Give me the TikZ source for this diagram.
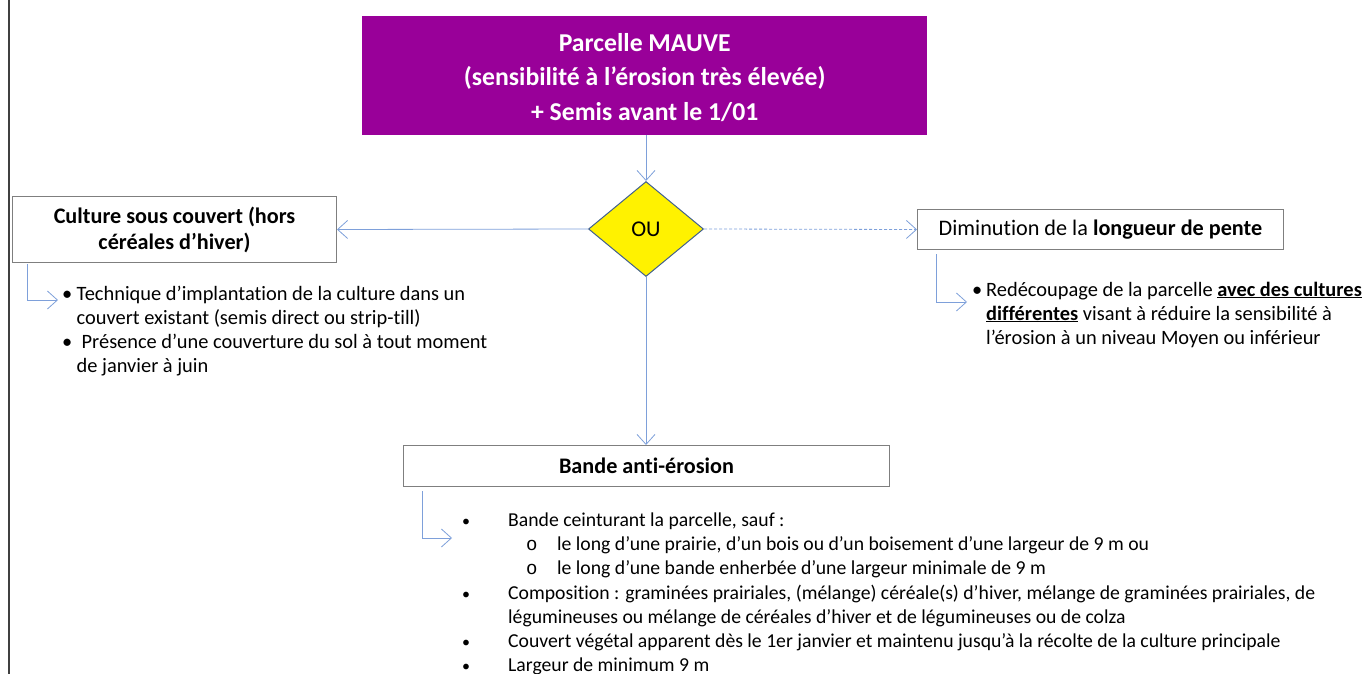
\documentclass[tikz,border=0pt]{standalone}
\usepackage{fontspec}
\setmainfont{Carlito}[Ligatures=CommonOff]
\newfontfamily\monof{Liberation Mono}
\usetikzlibrary{arrows.meta,shapes.geometric}
\definecolor{mauve}{HTML}{990099}
\definecolor{connc}{HTML}{7EA0DA}
\definecolor{boxline}{HTML}{7F7F7F}
\definecolor{dborder}{HTML}{41608F}
\definecolor{frame}{HTML}{404040}
\newcommand\bodyf{\fontsize{20.4}{24}\selectfont}
\newcommand\botf{\fontsize{19.7}{24}\selectfont}
\begin{document}
\begin{tikzpicture}[x=1pt,y=-1pt,
  conn/.style={draw=connc, line width=0.8pt, -{Straight Barb[length=10pt,width=18pt,line width=0.8pt]}},
  boxnode/.style={draw=boxline, line width=1pt, fill=white, inner sep=0pt, anchor=north west},
  txt/.style={inner sep=0pt, anchor=base west, font=\bodyf},
  btxt/.style={inner sep=0pt, anchor=base west, font=\botf}]
\useasboundingbox (0,0) rectangle (1365,674);
\draw[frame, line width=1.3pt] (9,0) coordinate (f1) -- (9,674) coordinate (f2);
% top box
\node[fill=mauve, inner sep=0pt, anchor=north west, minimum width=565pt, minimum height=119pt] (top) at (362,16) {};
\node[text=white, align=center, font=\fontsize{25.7}{34.5}\selectfont\bfseries] (toptxt) at ([yshift=-1.5pt]top.center) {Parcelle MAUVE\\(sensibilité à l’érosion très élevée)\\+ Semis avant le 1/01};
% diamond
\node[diamond, fill=yellow, draw=dborder, line width=1pt, minimum width=115pt, minimum height=95pt, inner sep=0pt, font=\fontsize{22.5}{24}\selectfont] (dia) at (646,229) {OU};
% boxes
\node[boxnode, minimum width=324pt, minimum height=66pt] (left) at (12,196) {};
\node[align=center, font=\fontsize{22.2}{26}\selectfont\bfseries] (lefttxt) at (left.center) {Culture sous couvert (hors\\céréales d’hiver)};
\node[boxnode, minimum width=366pt, minimum height=40pt] (right) at (917,209) {};
\node[font=\fontsize{22.2}{24}\selectfont] (righttxt) at (right.center) {Diminution de la \textbf{longueur de pente}};
\node[boxnode, minimum width=486pt, minimum height=41pt] (bot) at (403,445) {};
\node[font=\fontsize{22.2}{24}\selectfont\bfseries] (bottxt) at (bot.center) {Bande anti-érosion};
% connectors
\draw[conn] (dia.north |- top.south) -- (dia.north);
\draw[conn] (dia.west) -- (left.east);
\draw[conn, dash pattern=on 3pt off 2pt] (dia.east) -- (right.west);
\draw[conn] (dia.south) -- (dia.south |- bot.north);
\coordinate (le) at (58,300);
\coordinate (re) at (967,302);
\coordinate (be) at (452,538);
\draw[conn] ([xshift=15pt,yshift=-1pt]left.south west) |- (le);
\draw[conn] ([xshift=19pt,yshift=-4pt]right.south west) |- (re);
\draw[conn] ([xshift=19pt,yshift=-4pt]bot.south west) |- (be);
% left bullets
\node[txt] (lb1) at (62,300) {•};
\node[txt] (l1) at (76.5,300) {Technique d’implantation de la culture dans un};
\node[txt] (l2) at (76.5,324) {couvert existant (semis direct ou strip-till)};
\node[txt] (lb2) at (62,348) {•};
\node[txt] (l3) at (81.5,348) {Présence d’une couverture du sol à tout moment};
\node[txt] (l4) at (76.5,372) {de janvier à juin};
% right bullets
\node[txt] (rb1) at (972,296) {•};
\node[txt] (r1) at (986,296) {Redécoupage de la parcelle \textbf{\underline{avec des cultures}}};
\node[txt] (r2) at (986,320) {\textbf{\underline{différentes}} visant à réduire la sensibilité à};
\node[txt] (r3) at (986,344) {l’érosion à un niveau Moyen ou inférieur};
% bottom bullets
\node[btxt] (bb1) at (462,526) {\fontsize{16}{16}\selectfont•};
\node[btxt] (b1) at (508,526) {Bande ceinturant la parcelle, sauf :};
\node[btxt] (bo1) at (526,550) {\monof\fontsize{19}{19}\selectfont o};
\node[btxt] (b2) at (557,550) {le long d’une prairie, d’un bois ou d’un boisement d’une largeur de 9 m ou};
\node[btxt] (bo2) at (526,574) {\monof\fontsize{19}{19}\selectfont o};
\node[btxt] (b3) at (557,574) {le long d’une bande enherbée d’une largeur minimale de 9 m};
\node[btxt] (bb2) at (462,599) {\fontsize{16}{16}\selectfont•};
\node[btxt] (b4) at (508,599) {Composition : graminées prairiales, (mélange) céréale(s) d’hiver, mélange de graminées prairiales, de};
\node[btxt] (b5) at (508,623) {légumineuses ou mélange de céréales d’hiver et de légumineuses ou de colza};
\node[btxt] (bb3) at (462,647) {\fontsize{16}{16}\selectfont•};
\node[btxt] (b6) at (508,647) {Couvert végétal apparent dès le 1er janvier et maintenu jusqu’à la récolte de la culture principale};
\node[btxt] (bb4) at (462,671) {\fontsize{16}{16}\selectfont•};
\node[btxt] (b7) at (508,671) {Largeur de minimum 9 m};
\end{tikzpicture}
\end{document}
